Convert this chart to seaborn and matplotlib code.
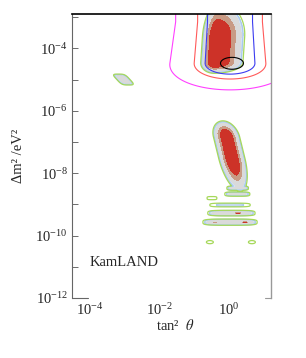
import numpy as np
import matplotlib
matplotlib.use("Agg")
import matplotlib.pyplot as plt
from matplotlib.ticker import FixedLocator, LogFormatterSciNotation, NullFormatter
import seaborn as sns

# all region parameters are in log10(tan^2 theta) = u, log10(dm^2/eV^2) = v

# big allowed islands (LMA on top, LOW below): plateau in v between v_lo and v_hi
blob_name = ["LMA", "LOW"]
blob_u = [-0.36, -0.06]
blob_su_left = [0.22, 0.21]
blob_su_right = [0.44, 0.20]
blob_v_lo = [-4.45, -7.53]
blob_v_hi = [-3.64, -6.84]
blob_sv_lo = [0.19, 0.57]
blob_sv_hi = [0.60, 0.28]
blob_tilt = [0.06, -0.22]

# small islands: SMA blob, vacuum stripes, tiny ellipses
box_u = [-3.04, 0.25, 0.24, -0.49, 0.03, 0.07, 0.03, 0.26, 0.46, -0.40, -0.55, 0.66]
box_v = [-5.00, -8.48, -8.67, -8.80, -9.02, -9.28, -9.57, -9.28, -9.57, -9.57, -10.21, -10.21]
box_hu = [0.19, 0.31, 0.36, 0.14, 0.58, 0.68, 0.78, 0.15, 0.12, 0.10, 0.10, 0.10]
box_hv = [0.175, 0.07, 0.07, 0.05, 0.06, 0.09, 0.10, 0.05, 0.05, 0.05, 0.05, 0.05]
box_min = [2.2, 2.3, 2.5, 3.0, 2.9, 2.0, 1.8, 0.5, 0.5, 1.2, 3.2, 3.2]
box_tilt = [-0.83, 0, 0, 0, 0, 0, 0, 0, 0, 0, 0, 0]
box_pow = [4, 4, 4, 4, 4, 4, 4, 4, 4, 4, 2, 2]

# confidence levels of the filled regions
fill_levels = [-1.0, 1.0, 1.7, 2.8, 3.0]
fill_colors = ["#cd3228", "#c89a84", "#dadada", "#d2e2f4"]
edge_levels = [3.0, 3.4]
edge_colors = ["#a9c8ee", "#a6d85a"]

# open exclusion-like curves around LMA
line_u = 0.03
line_v = -4.47
line_sv = 0.55
line_widen = 0.08
line_levels = [0.42, 0.87, 2.45]
line_colors = ["#3c3cf0", "#ff5a5a", "#ff40ff"]

# best-fit ellipse
ell_u = 0.086
ell_v = -4.48
ell_hu = 0.33
ell_hv = 0.19

#%% fields
u = np.linspace(-4.6, 1.3, 900)
v = np.linspace(-12.05, -2.85, 1400)
U, V = np.meshgrid(u, v)

chi = np.full(U.shape, 10.0)
for i in range(len(blob_u)):
    uc = blob_u[i] + blob_tilt[i] * (V - blob_v_hi[i])
    du = U - uc
    du = np.where(du < 0, du / blob_su_left[i], du / blob_su_right[i])
    dv = (np.maximum(blob_v_lo[i] - V, 0) / blob_sv_lo[i]
          + np.maximum(V - blob_v_hi[i], 0) / blob_sv_hi[i])
    chi = np.minimum(chi, du**2 + dv**2)

for i in range(len(box_u)):
    uc = box_u[i] + box_tilt[i] * (V - box_v[i])
    p = box_pow[i]
    r = np.abs((U - uc) / box_hu[i])**p + np.abs((V - box_v[i]) / box_hv[i])**p
    chi = np.minimum(chi, box_min[i] + (3.4 - box_min[i]) * r)

su = 1 + line_widen * np.clip(-3.15 - V, 0, None)
chi_line = ((U - line_u) / su)**2 + (np.maximum(line_v - V, 0) / line_sv)**2

ell = ((U - ell_u) / ell_hu)**2 + ((V - ell_v) / ell_hv)**2

X = 10**U
Y = 10**V

#%% plot
sns.set_style("ticks")
plt.rcParams['font.family'] = ['Liberation Serif', 'DejaVu Serif']
plt.rcParams['mathtext.fontset'] = 'stix'

fig = plt.figure(figsize=(3.06, 3.58), dpi=100)
ax = fig.add_axes([72/306, 1 - 298/358, 199/306, 284/358])
ax.set_xscale('log')
ax.set_yscale('log')

ax.contourf(X, Y, chi, levels=fill_levels, colors=fill_colors)
ax.contour(X, Y, chi, levels=edge_levels, colors=edge_colors, linewidths=0.9)
ax.contour(X, Y, chi_line, levels=line_levels, colors=line_colors, linewidths=0.8)
ax.contour(X, Y, ell, levels=[1.0], colors='black', linewidths=0.8)

ax.set_xlim(10**-4.52, 10**1.21)
ax.set_ylim(1e-12, 10**-2.9)

ax.xaxis.set_major_locator(FixedLocator([1e-4, 1e-2, 1e0]))
ax.xaxis.set_minor_locator(FixedLocator([]))
ax.yaxis.set_major_locator(FixedLocator([1e-12, 1e-10, 1e-8, 1e-6, 1e-4]))
ax.yaxis.set_minor_locator(FixedLocator([1e-11, 1e-9, 1e-7, 1e-5, 1e-3]))
ax.xaxis.set_major_formatter(LogFormatterSciNotation())
ax.yaxis.set_major_formatter(LogFormatterSciNotation())
ax.yaxis.set_minor_formatter(NullFormatter())
ax.tick_params(axis='y', which='both', direction='in', length=4, width=0.6,
               color='#555555', labelsize=10.5, pad=3)
ax.tick_params(axis='x', which='both', direction='in', length=0,
               labelsize=10.5, pad=3)

ax.spines['top'].set_color('black')
ax.spines['top'].set_linewidth(1.2)
ax.spines['left'].set_color('#666666')
ax.spines['left'].set_linewidth(0.8)
ax.spines['right'].set_color('#999999')
ax.spines['right'].set_linewidth(1.0)
ax.spines['bottom'].set_visible(False)
ax.plot([0, 0.08], [0, 0], transform=ax.transAxes, color='#666666', lw=0.8, clip_on=False)
ax.plot([0.97, 1], [0, 0], transform=ax.transAxes, color='#999999', lw=0.8, clip_on=False)

ax.set_ylabel("Δm² /eV²", fontsize=10.5)
ax.yaxis.set_label_coords(-0.235, 0.5)
ax.set_xlabel(r"tan²  $\theta$", fontsize=10.5)
ax.xaxis.set_label_coords(0.52, -0.072)

ax.text(0.09, 0.125, "KamLAND", transform=ax.transAxes, fontsize=10.5,
        ha='left', va='center')

fig.savefig("out.png", dpi=100)
